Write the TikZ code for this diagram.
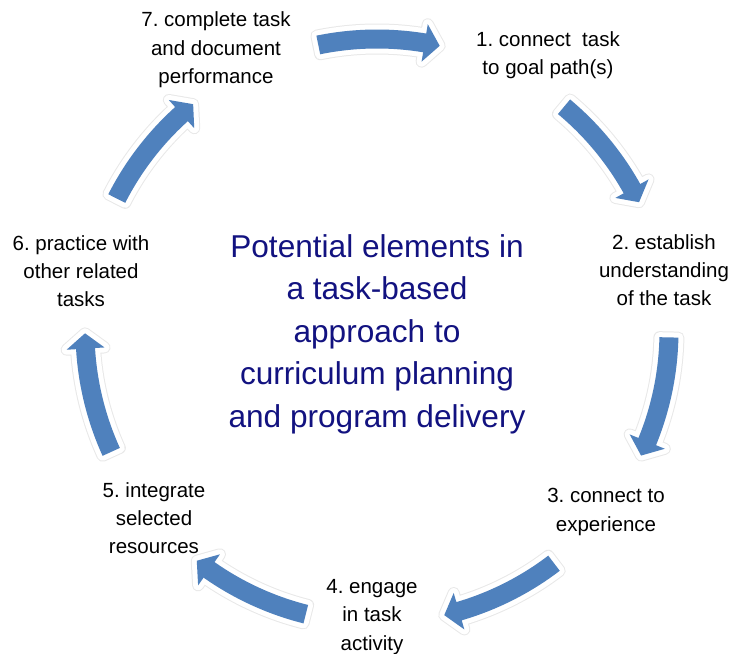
\documentclass[tikz,border=0pt]{standalone}
\usepackage{fontspec}
\setmainfont{Liberation Sans}
\frenchspacing
\definecolor{arrowblue}{RGB}{79,129,189}
\definecolor{titleblue}{RGB}{18,18,128}
\tikzset{
	arrowedge/.style={draw=gray!18, line width=12bp, line join=round},
	arrowhalo/.style={draw=white, line width=10bp, line join=round},
	arrowbody/.style={fill=arrowblue},
	steplabel/.style={align=center, inner sep=0pt, font=\fontsize{20.5bp}{28.3bp}\selectfont},
	titletext/.style={align=center, inner sep=0pt, text=titleblue, font=\fontsize{31.6bp}{42.5bp}\selectfont}
}
\begin{document}
\begin{tikzpicture}[x=1bp, y=1bp]
	\useasboundingbox (0,0) rectangle (734,654);
	% seven curved arrows round the cycle
	\begin{scope}[shift={(377,323)}]
		\foreach \k in {1,...,7} {
			\pgfmathsetmacro{\ta}{101.6-51.4286*(\k-1)}
			\pgfmathsetmacro{\ha}{\ta-21}
			\pgfmathsetmacro{\pa}{\ta-24}
			\foreach \sty in {arrowedge,arrowhalo,arrowbody}
				\path[\sty] (\ta:301.5) arc[start angle=\ta, end angle=\ha, radius=301.5]
					-- (\ha:311) -- (\pa:292) -- (\ha:273) -- (\ha:282.5)
					arc[start angle=\ha, end angle=\ta, radius=282.5] -- cycle;
		}
	\end{scope}
	\node[titletext] (title) at (377,320) {Potential elements in\\a task-based\\approach to\\curriculum planning\\and program delivery};
	\node[steplabel] (s1) at (548,599) {1. connect\ \ task\\to goal path(s)};
	\node[steplabel] (s2) at (664,384) {2. establish\\understanding\\of the task};
	\node[steplabel] (s3) at (606,142) {3. connect to\\experience};
	\node[steplabel] (s4) at (372,37) {4. engage\\in task\\activity};
	\node[steplabel] (s5) at (154,136) {5. integrate\\selected\\resources};
	\node[steplabel] (s6) at (81,383) {6. practice with\\other related\\tasks};
	\node[steplabel] (s7) at (216,604) {7. complete task\\and document\\performance};
\end{tikzpicture}
\end{document}
